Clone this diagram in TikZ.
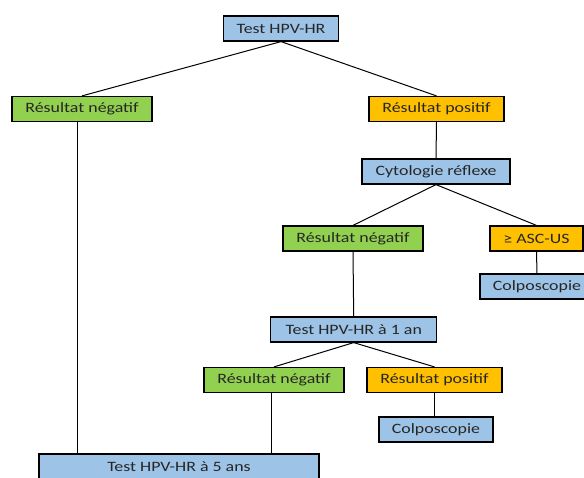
\documentclass[tikz,border=0pt]{standalone}
\usepackage{fontspec}
\setmainfont{Carlito}[FakeStretch=1.25]
\definecolor{bbox}{HTML}{9DC3E6}
\definecolor{gbox}{HTML}{92D050}
\definecolor{obox}{HTML}{FFC000}
\tikzset{
  box/.style={draw=black, line width=1.2pt, minimum height=25pt, inner sep=0pt,
    font=\fontsize{14.3}{16}\selectfont, text=black!85},
  bluebox/.style={box, fill=bbox},
  greenbox/.style={box, fill=gbox},
  orangebox/.style={box, fill=obox},
  link/.style={draw=black, line width=1pt}
}
\begin{document}
\begin{tikzpicture}[x=1pt,y=-1pt]
\useasboundingbox (0,0) rectangle (584,477);
\fill[white] (0,0) rectangle (584,477);
\node[bluebox, minimum width=115pt] (top) at (281,28.5) {Test HPV-HR};
\node[greenbox, minimum width=140pt] (negL) at (82,109) {Résultat négatif};
\node[orangebox, minimum width=135pt] (posR) at (436.5,109) {Résultat positif};
\node[bluebox, minimum width=148pt] (cyto) at (436,171.5) {Cytologie réflexe};
\node[greenbox, minimum width=140pt] (negM) at (353,238.5) {Résultat négatif};
\node[orangebox, minimum width=93pt] (asc) at (536.5,238.5) {≥ ASC-US};
\node[bluebox, minimum width=114pt] (colR) at (537,286.5) {Colposcopie};
\node[bluebox, minimum width=166pt] (t1) at (353.7,329.5) {Test HPV-HR à 1 an};
\node[greenbox, minimum width=140pt] (negL2) at (274,380) {Résultat négatif};
\node[orangebox, minimum width=135pt] (posL2) at (434.5,380) {Résultat positif};
\node[bluebox, minimum width=114pt] (colL) at (436,429.5) {Colposcopie};
\node[bluebox, minimum width=280pt] (t5) at (179,466.5) {Test HPV-HR à 5 ans};

\draw[link] (top.south) -- (negL.north);
\draw[link] (top.south) -- (posR.north);
\draw[link] (posR.south) -- (cyto.north);
\draw[link] (cyto.south) -- (negM.north);
\draw[link] (cyto.south) -- (asc.north);
\draw[link] (asc.south) -- (colR.north);
\draw[link] (negM.south) -- (t1.north);
\draw[link] (t1.south) -- (negL2.north);
\draw[link] (t1.south) -- (posL2.north);
\draw[link] (posL2.south) -- (colL.north -| posL2.south);
\draw[link] ([xshift=-5pt]negL.south) -- ([xshift=-5pt]negL.south |- t5.north);
\draw[link] ([xshift=-3pt]negL2.south) -- ([xshift=-3pt]negL2.south |- t5.north);
\end{tikzpicture}
\end{document}
